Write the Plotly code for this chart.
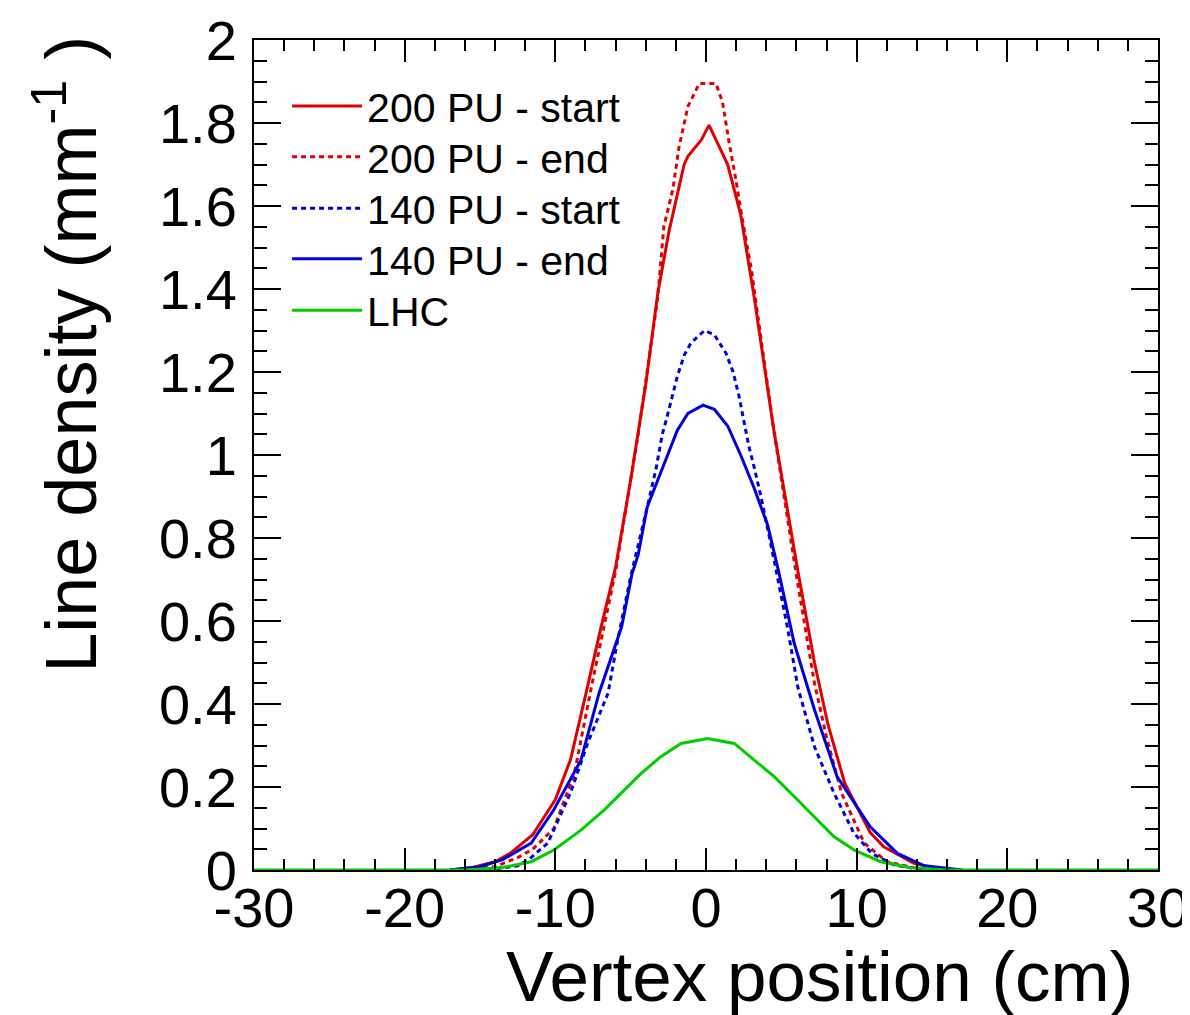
import plotly.graph_objects as go

# ---- data ----
x_200_start = [-17, -15.5, -14, -13, -12, -11.5, -10, -9, -8, -7, -6, -5, -4, -3.2, -2.45, -1.45, -1.2,
               -0.3, 0.2, 0.8, 1.44, 2.3, 3.2, 4.5, 6.1, 7.2, 8.1, 9.2, 10.9, 11.8, 13.8, 15.5, 17]
y_200_start = [0, 0.006, 0.02, 0.04, 0.07, 0.085, 0.17, 0.265, 0.42, 0.58, 0.73, 0.94, 1.17, 1.39, 1.54, 1.70, 1.72,
               1.76, 1.795, 1.75, 1.70, 1.58, 1.38, 1.06, 0.72, 0.5, 0.35, 0.21, 0.09, 0.056, 0.016, 0.003, 0]

x_200_end = [-16, -14, -12.5, -11.5, -10.1, -8.75, -7.5, -6, -4.5, -3.2, -2.8, -2.2, -1.8, -1.2, -0.45,
             0.66, 1.1, 1.5, 2.0, 2.4, 3.0, 4.5, 6.0, 7.2, 8.0, 9.0, 10.5, 12, 14, 16]
y_200_end = [0, 0.008, 0.03, 0.05, 0.1, 0.23, 0.46, 0.72, 1.05, 1.38, 1.55, 1.64, 1.74, 1.84, 1.895,
             1.895, 1.85, 1.76, 1.66, 1.57, 1.45, 1.06, 0.71, 0.45, 0.32, 0.185, 0.065, 0.02, 0.004, 0]

x_140_start = [-14.5, -12.5, -11.8, -10.5, -9.0, -7.85, -6.5, -5.9, -5.0, -4.1, -3.8, -3.3, -2.9, -2.6, -2.2,
               -1.9, -1.45, -1.0, -0.1, 0.55, 1.33, 1.8, 2.2, 2.5, 2.85, 3.2, 3.65, 4.5, 5.4, 6.1, 7.2,
               8.5, 9.8, 11, 12.5, 14.5]
y_140_start = [0, 0.01, 0.024, 0.065, 0.185, 0.306, 0.426, 0.547, 0.707, 0.84, 0.89, 0.97, 1.05, 1.09, 1.15,
               1.19, 1.24, 1.27, 1.30, 1.29, 1.245, 1.20, 1.14, 1.08, 1.02, 0.97, 0.90, 0.75, 0.586, 0.44, 0.297,
               0.185, 0.09, 0.04, 0.012, 0]

x_140_end = [-17, -15, -13.5, -12.5, -11.6, -10.1, -8.3, -7.1, -5.6, -4.9, -4.5, -3.9, -3.2, -2.45, -1.9,
             -1.2, -0.2, 0.55, 1.44, 2.3, 3.2, 4.1, 4.85, 5.85, 7.2, 8.7, 10.9, 12.7, 14.5, 17]
y_140_end = [0, 0.008, 0.025, 0.045, 0.065, 0.145, 0.265, 0.426, 0.586, 0.715, 0.76, 0.875, 0.94, 1.01, 1.06,
             1.10, 1.12, 1.11, 1.07, 1.0, 0.92, 0.83, 0.715, 0.547, 0.386, 0.225, 0.104, 0.04, 0.01, 0]

x_lhc = [-30, -16, -13.5, -11.6, -10.1, -8.3, -6.75, -5.4, -4.3, -3.0, -1.66, 0.1, 1.88, 3.2, 4.53,
         5.86, 7.2, 8.5, 9.85, 11.6, 13.5, 16, 30]
y_lhc = [0, 0, 0.006, 0.02, 0.048, 0.096, 0.145, 0.193, 0.233, 0.273, 0.305, 0.317, 0.305, 0.265, 0.225,
         0.177, 0.128, 0.08, 0.048, 0.02, 0.006, 0, 0]

x_tickvals = [-30, -20, -10, 0, 10, 20, 30]
x_ticktext = ["-30", "-20", "-10", "0", "10", "20", "30"]
y_tickvals = [0, 0.2, 0.4, 0.6, 0.8, 1.0, 1.2, 1.4, 1.6, 1.8, 2.0]
y_ticktext = ["0", "0.2", "0.4", "0.6", "0.8", "1", "1.2", "1.4", "1.6", "1.8", "2"]

RED = "#e00000"
BLUE = "#0000dd"
GREEN = "#00cc00"
FONT = "Liberation Sans, Arial, Helvetica, sans-serif"
DOT = "5px,4px"

fig = go.Figure()
series = [
    ("200 PU - start", x_200_start, y_200_start, RED, "solid"),
    ("200 PU - end", x_200_end, y_200_end, RED, DOT),
    ("140 PU - start", x_140_start, y_140_start, BLUE, DOT),
    ("140 PU - end", x_140_end, y_140_end, BLUE, "solid"),
    ("LHC", x_lhc, y_lhc, GREEN, "solid"),
]
legend_ids = ["legend", "legend2", "legend3", "legend4", "legend5"]
for (name, xs, ys, col, dash), lid in zip(series, legend_ids):
    fig.add_trace(go.Scatter(x=xs, y=ys, mode="lines", name=name, legend=lid,
                             line=dict(color=col, width=3, dash=dash)))

axis_common = dict(showgrid=False, zeroline=False, showline=True, linecolor="black", linewidth=2,
                   mirror="ticks", ticks="inside", tickcolor="black", tickwidth=2, automargin=False,
                   tickfont=dict(family=FONT, size=56, color="black"))

fig.update_xaxes(range=[-30, 30], tickvals=x_tickvals, ticktext=x_ticktext, ticklen=22,
                 minor=dict(dtick=2, tick0=-30, ticks="inside", ticklen=11, tickcolor="black", tickwidth=2),
                 ticklabelstandoff=-12, **axis_common)
fig.update_yaxes(range=[0, 2], tickvals=y_tickvals, ticktext=y_ticktext, ticklen=27,
                 minor=dict(dtick=0.05, tick0=0, ticks="inside", ticklen=13, tickcolor="black", tickwidth=2),
                 ticklabelstandoff=4, **axis_common)

fig.add_annotation(text="Vertex position (cm)", xref="paper", yref="paper",
                   x=0.9745, y=-0.128, xanchor="right", yanchor="middle", showarrow=False,
                   font=dict(family=FONT, size=71, color="black"))
fig.add_annotation(text="Line density (mm<sup>-1</sup> )", xref="paper", yref="paper",
                   x=-0.208, y=1.008, xanchor="center", yanchor="top", textangle=-90, showarrow=False,
                   font=dict(family=FONT, size=72, color="black"))

# legend rows: one legend box per entry so the row pitch matches the reference
row_y = [0.920, 0.859, 0.797, 0.736, 0.674]
legend_layout = {}
for lid, ry in zip(legend_ids, row_y):
    legend_layout[lid] = dict(x=0.0366, y=ry, xanchor="left", yanchor="middle",
                              bgcolor="rgba(0,0,0,0)", borderwidth=0,
                              font=dict(family=FONT, size=41, color="black"), itemwidth=70)

fig.update_layout(
    width=1182, height=1007,
    margin=dict(l=246, r=32, t=32, b=145, autoexpand=False),
    paper_bgcolor="white", plot_bgcolor="white",
    showlegend=True,
    **legend_layout,
)

fig.write_html("out.html")
